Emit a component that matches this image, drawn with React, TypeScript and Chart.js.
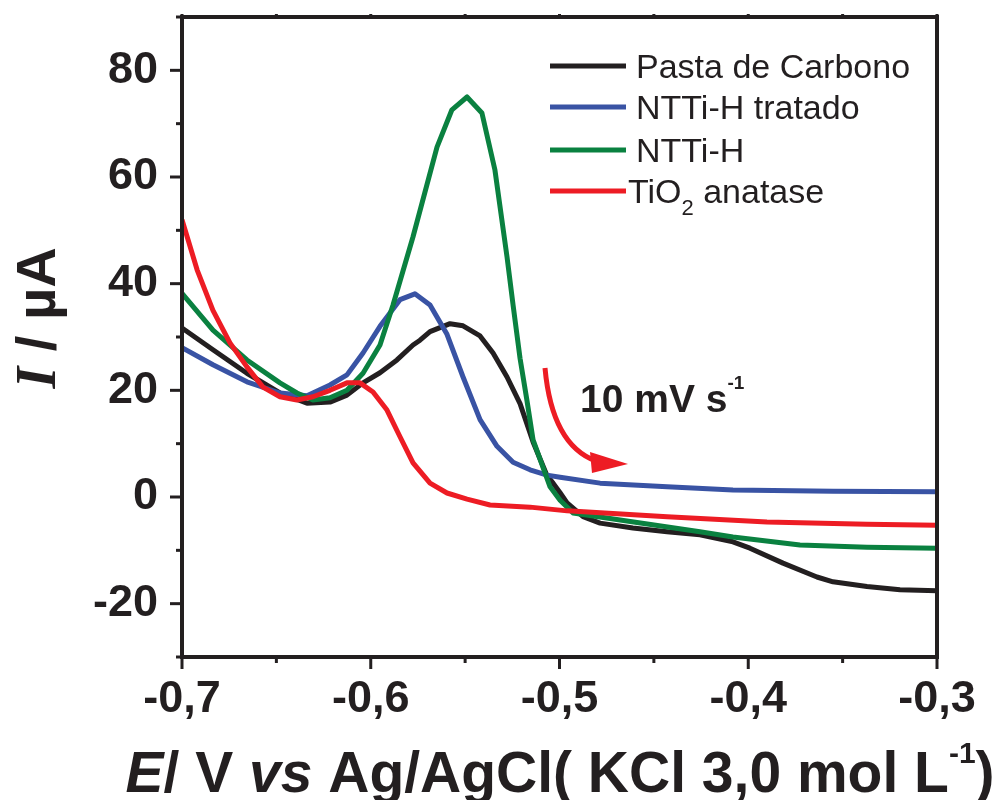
import React, { useEffect, useRef } from 'react';
import { Chart, registerables } from 'chart.js';

Chart.register(...registerables);

const INK = '#231f20';
const SANS = '"Liberation Sans", Arial, sans-serif';
const SERIF = '"Liberation Serif", "Times New Roman", serif';

// ---- data (E in V, I in µA) ----
const seriesNames = ['Pasta de Carbono', 'NTTi-H tratado', 'NTTi-H', 'TiO2 anatase'];
const seriesColors = ['#231f20', '#3953a4', '#0a8140', '#ed1c24'];

const carbonE = [-0.7, -0.6836, -0.6656, -0.6481, -0.6338, -0.6216, -0.6126, -0.6041, -0.5951, -0.5861, -0.5776, -0.5739, -0.5686, -0.558, -0.5511, -0.5421, -0.5352, -0.5278, -0.5209, -0.514, -0.5066, -0.5034, -0.4997, -0.496, -0.4875, -0.4785, -0.4611, -0.443, -0.4256, -0.4081, -0.3991, -0.3816, -0.3636, -0.3551, -0.3371, -0.3196, -0.3];
const carbonI = [31.7, 27.6, 23.2, 19.5, 17.6, 17.8, 19.1, 21.4, 23.3, 25.7, 28.5, 29.4, 31.0, 32.5, 32.1, 30.2, 27.0, 22.5, 17.5, 10.3, 4.0, 2.6, 0.8, -1.1, -3.7, -4.9, -5.8, -6.5, -7.1, -8.4, -9.6, -12.4, -15.0, -15.9, -16.8, -17.4, -17.6];

const tratadoE = [-0.7, -0.6836, -0.6656, -0.6481, -0.6338, -0.6216, -0.6126, -0.6041, -0.5951, -0.5845, -0.5766, -0.5686, -0.5596, -0.5511, -0.5421, -0.5331, -0.5246, -0.5156, -0.5066, -0.4997, -0.4785, -0.443, -0.4081, -0.3551, -0.3];
const tratadoI = [28.0, 24.8, 21.6, 19.5, 19.0, 21.0, 22.9, 27.0, 32.0, 37.0, 38.1, 36.0, 30.5, 22.5, 14.5, 9.5, 6.5, 5.1, 4.1, 3.7, 2.6, 1.9, 1.3, 1.1, 1.0];

const nttiE = [-0.7, -0.6836, -0.6656, -0.6481, -0.6391, -0.6306, -0.6216, -0.6126, -0.6041, -0.5951, -0.5882, -0.5776, -0.5649, -0.557, -0.549, -0.5411, -0.5342, -0.5278, -0.5246, -0.5209, -0.5172, -0.514, -0.505, -0.4997, -0.4928, -0.4679, -0.4256, -0.4081, -0.3726, -0.3371, -0.3];
const nttiI = [38.2, 31.3, 25.7, 21.4, 19.5, 18.2, 18.6, 20.0, 23.2, 28.5, 36.0, 48.8, 65.6, 72.6, 75.0, 72.0, 61.3, 45.0, 36.0, 26.0, 18.0, 10.7, 1.9, -0.6, -3.0, -4.3, -6.5, -7.5, -9.0, -9.4, -9.6];

const tio2E = [-0.7, -0.692, -0.6836, -0.6746, -0.6656, -0.6571, -0.6481, -0.6391, -0.6306, -0.6216, -0.6126, -0.6057, -0.5988, -0.5914, -0.5845, -0.5776, -0.5686, -0.5596, -0.549, -0.5368, -0.5156, -0.496, -0.443, -0.3901, -0.3371, -0.3];
const tio2I = [52.0, 42.6, 35.0, 28.9, 24.4, 20.6, 18.8, 18.2, 18.8, 20.0, 21.4, 21.4, 19.7, 16.3, 11.3, 6.4, 2.6, 0.75, -0.4, -1.5, -1.9, -2.6, -3.7, -4.7, -5.1, -5.3];

const xMin = -0.7;
const xMax = -0.3;
const yMin = -30;
const yMax = 90;
const yLabelled = [-20, 0, 20, 40, 60, 80];

const toPoints = (xs: number[], ys: number[]) => xs.map((x, i) => ({ x, y: ys[i] }));

function line(ctx: CanvasRenderingContext2D, x1: number, y1: number, x2: number, y2: number) {
  ctx.beginPath();
  ctx.moveTo(x1, y1);
  ctx.lineTo(x2, y2);
  ctx.stroke();
}

type Part = { t: string; font: string; dy?: number };
function drawParts(ctx: CanvasRenderingContext2D, parts: Part[], x: number, y: number, align: 'left' | 'center') {
  let total = 0;
  for (const p of parts) {
    ctx.font = p.font;
    total += ctx.measureText(p.t).width;
  }
  let cx = align === 'center' ? x - total / 2 : x;
  ctx.textAlign = 'left';
  ctx.textBaseline = 'alphabetic';
  for (const p of parts) {
    ctx.font = p.font;
    ctx.fillText(p.t, cx, y + (p.dy || 0));
    cx += ctx.measureText(p.t).width;
  }
}

const decor = {
  id: 'decor',
  afterDatasetsDraw(chart: any) {
    const { ctx, chartArea: a, scales } = chart;
    const xs = scales.x;
    const ys = scales.y;
    ctx.save();
    ctx.strokeStyle = INK;
    ctx.fillStyle = INK;
    // ticks
    ctx.lineWidth = 3;
    for (let i = 0; i <= 8; i++) {
      const v = xMin + i * 0.05;
      const px = xs.getPixelForValue(v);
      const major = i % 2 === 0;
      line(ctx, px, a.bottom, px, a.bottom + (major ? 12 : 6));
      line(ctx, px, a.top, px, a.top - 3);
    }
    for (let v = yMin; v <= yMax; v += 10) {
      const py = ys.getPixelForValue(v);
      const major = yLabelled.includes(v);
      line(ctx, a.left, py, a.left - (major ? 12 : 6), py);
    }
    // frame
    ctx.lineWidth = 4;
    ctx.strokeRect(a.left, a.top, a.right - a.left, a.bottom - a.top);

    // legend
    const lx1 = 550, lx2 = 626;
    const rows = [66, 107, 150, 191];
    ctx.lineWidth = 5;
    for (let i = 0; i < 4; i++) {
      ctx.strokeStyle = seriesColors[i];
      line(ctx, lx1, rows[i], lx2, rows[i]);
    }
    ctx.fillStyle = INK;
    const lf = `34px ${SANS}`;
    drawParts(ctx, [{ t: seriesNames[0], font: lf }], 636, 78, 'left');
    drawParts(ctx, [{ t: seriesNames[1], font: lf }], 636, 119, 'left');
    drawParts(ctx, [{ t: seriesNames[2], font: lf }], 636, 162, 'left');
    drawParts(ctx, [
      { t: 'TiO', font: lf },
      { t: '2', font: `22px ${SANS}`, dy: 12 },
      { t: ' anatase', font: lf },
    ], 628, 203, 'left');

    // scan-rate annotation
    ctx.strokeStyle = '#ed1c24';
    ctx.fillStyle = '#ed1c24';
    ctx.lineWidth = 5;
    ctx.beginPath();
    ctx.moveTo(545, 368);
    ctx.quadraticCurveTo(552, 445, 596, 461);
    ctx.stroke();
    ctx.beginPath();
    ctx.moveTo(590, 452);
    ctx.lineTo(628, 464);
    ctx.lineTo(592, 473);
    ctx.closePath();
    ctx.fill();
    ctx.fillStyle = INK;
    drawParts(ctx, [
      { t: '10 mV s', font: `bold 39px ${SANS}` },
      { t: '-1', font: `bold 19px ${SANS}`, dy: -23 },
    ], 580, 412, 'left');

    // x title
    const tf = `bold 57px ${SANS}`;
    const tfi = `italic bold 57px ${SANS}`;
    drawParts(ctx, [
      { t: 'E', font: tfi },
      { t: '/ V ', font: tf },
      { t: 'vs', font: tfi },
      { t: ' Ag/AgCl( KCl 3,0 mol L', font: tf },
      { t: '-1', font: `bold 30px ${SANS}`, dy: -29 },
      { t: ')', font: tf },
    ], 560, 792, 'center');

    // y title
    ctx.save();
    ctx.translate(55, 318);
    ctx.rotate(-Math.PI / 2);
    drawParts(ctx, [
      { t: 'I', font: `italic bold 56px ${SERIF}` },
      { t: ' / µA', font: `bold 56px ${SANS}` },
    ], 0, 0, 'center');
    ctx.restore();

    ctx.restore();
  },
};

export default function App() {
  const ref = useRef<HTMLCanvasElement | null>(null);
  useEffect(() => {
    if (!ref.current) return;
    const all = [
      toPoints(carbonE, carbonI),
      toPoints(tratadoE, tratadoI),
      toPoints(nttiE, nttiI),
      toPoints(tio2E, tio2I),
    ];
    const drawOrder = [3, 2, 1, 0];
    const chart = new Chart(ref.current, {
      type: 'line',
      data: {
        datasets: all.map((d, i) => ({
          label: seriesNames[i],
          data: d,
          borderColor: seriesColors[i],
          backgroundColor: seriesColors[i],
          borderWidth: 5,
          pointRadius: 0,
          tension: 0,
          fill: false,
          borderJoinStyle: 'round' as const,
          order: drawOrder[i],
        })),
      },
      options: {
        animation: false,
        responsive: false,
        devicePixelRatio: 1,
        layout: { padding: { top: 17, right: 65, left: 0, bottom: 0 } },
        plugins: { legend: { display: false }, tooltip: { enabled: false } },
        scales: {
          x: {
            type: 'linear',
            min: xMin,
            max: xMax,
            grid: { display: false, drawTicks: false, tickLength: 0 },
            border: { display: false },
            ticks: {
              stepSize: 0.1,
              autoSkip: false,
              maxRotation: 0,
              padding: 16,
              color: INK,
              font: { family: SANS, size: 45, weight: 'bold' },
              callback: (v: any) => Number(v).toFixed(1).replace('.', ','),
            },
            afterFit: (s: any) => { s.height = 143; s.paddingLeft = 0; s.paddingRight = 0; },
          },
          y: {
            type: 'linear',
            min: yMin,
            max: yMax,
            grid: { display: false, drawTicks: false, tickLength: 0 },
            border: { display: false },
            ticks: {
              stepSize: 10,
              autoSkip: false,
              padding: 24,
              color: INK,
              font: { family: SANS, size: 45, weight: 'bold' },
              callback: (v: any) => (yLabelled.includes(Math.round(Number(v))) ? String(Math.round(Number(v))) : ''),
            },
            afterFit: (s: any) => { s.width = 182; s.paddingTop = 0; s.paddingBottom = 0; },
          },
        },
      },
      plugins: [decor],
    });
    return () => chart.destroy();
  }, []);
  return (
    <div style={{ position: 'absolute', left: 0, top: 0, width: 1002, height: 800, background: '#fff' }}>
      <canvas ref={ref} width={1002} height={800} style={{ display: 'block' }} />
    </div>
  );
}
